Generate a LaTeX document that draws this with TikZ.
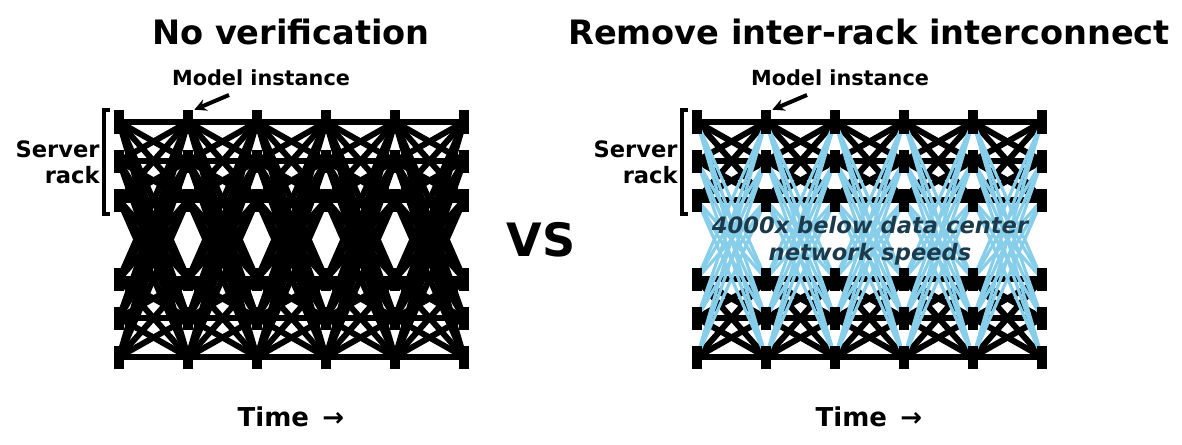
\documentclass[tikz,border=0pt]{standalone}
\usepackage{fontspec}
\setmainfont{DejaVu Sans}[BoldItalicFont={DejaVu Sans Bold Oblique}]
\usetikzlibrary{arrows.meta}
\pgfdeclarelayer{links}
\pgfdeclarelayer{slow}
\pgfsetlayers{links,slow,main}
\definecolor{slowblue}{HTML}{87CEEB}
\definecolor{slowtext}{HTML}{1B3B4C}
\tikzset{
  gpu/.style={fill=black, inner sep=0pt, minimum width=5pt, minimum height=11.5pt},
  link/.style={line width=3pt, black},
  slowlink/.style={line width=1.6pt, slowblue},
  title/.style={font=\fontsize{16.8}{20}\selectfont\bfseries, anchor=base},
  label/.style={font=\fontsize{10.4}{13}\selectfont\bfseries},
  racklabel/.style={font=\fontsize{11.3}{13}\selectfont\bfseries, align=right, anchor=east, inner sep=0pt},
  pointer/.style={line width=2pt, -{Stealth[length=6pt,width=6pt]}, shorten >=0.5pt},
  rackmark/.style={line width=1.8pt},
}
\begin{document}
\begin{tikzpicture}[x=0.5pt,y=-0.5pt]
  \useasboundingbox (0,0) rectangle (1182,444);
  % headings
  \draw
    (291,45) node[title] (head-l){No verification}
    (869,45) node[title] (head-r){Remove inter-rack interconnect}
    (541,256) node[anchor=base, font=\fontsize{23}{26}\selectfont\bfseries] (vs){VS}
    (291,426) node[anchor=base, font=\fontsize{13}{16}\selectfont\bfseries] (time-l){Time \,→}
    (869,426) node[anchor=base, font=\fontsize{13}{16}\selectfont\bfseries] (time-r){Time \,→};
  % model instances
  \foreach \c in {1,...,6}
    \foreach \r/\y in {1/122,2/161,3/200,4/279,5/318,6/357} {
      \node[gpu] (L-\c-\r) at ({50+69*\c},\y) {};
      \node[gpu] (R-\c-\r) at ({628+69*\c},\y) {};
    }
  % links between steps
  \begin{pgfonlayer}{links}
    \foreach \c [count=\n from 2] in {1,...,5}
      \foreach \a in {1,...,6}
        \foreach \b in {1,...,6} {
          \draw[link] (L-\c-\a.center) -- (L-\n-\b.center);
          \pgfmathtruncatemacro{\ra}{(\a-1)/3}
          \pgfmathtruncatemacro{\rb}{(\b-1)/3}
          \ifnum\ra=\rb
            \draw[link] (R-\c-\a.center) -- (R-\n-\b.center);
          \else
            \begin{pgfonlayer}{slow}
              \draw[slowlink] (R-\c-\a.center) -- (R-\n-\b.center);
            \end{pgfonlayer}
          \fi
        }
  \end{pgfonlayer}
  % labels
  \node[label, anchor=base] (mi-l) at (261,86) {Model instance};
  \node[label, anchor=base] (mi-r) at (840,86) {Model instance};
  \coordinate (from-l) at (229,95);
  \coordinate (from-r) at (807,95);
  \draw[pointer] (from-l) -- (L-2-1.north east);
  \draw[pointer] (from-r) -- (R-2-1.north east);
  \node[racklabel] (rack-l) at (100,162) {Server\\rack};
  \node[racklabel] (rack-r) at (678,162) {Server\\rack};
  \draw[rackmark] (110,110) -| (104,214) -- (110,214);
  \draw[rackmark] (688,110) -| (682,214) -- (688,214);
  \node[font=\fontsize{11.3}{13.5}\selectfont\bfseries\itshape, text=slowtext, align=center]
    (slow-note) at (870,241) {4000x below data center\\network speeds};
\end{tikzpicture}
\end{document}
